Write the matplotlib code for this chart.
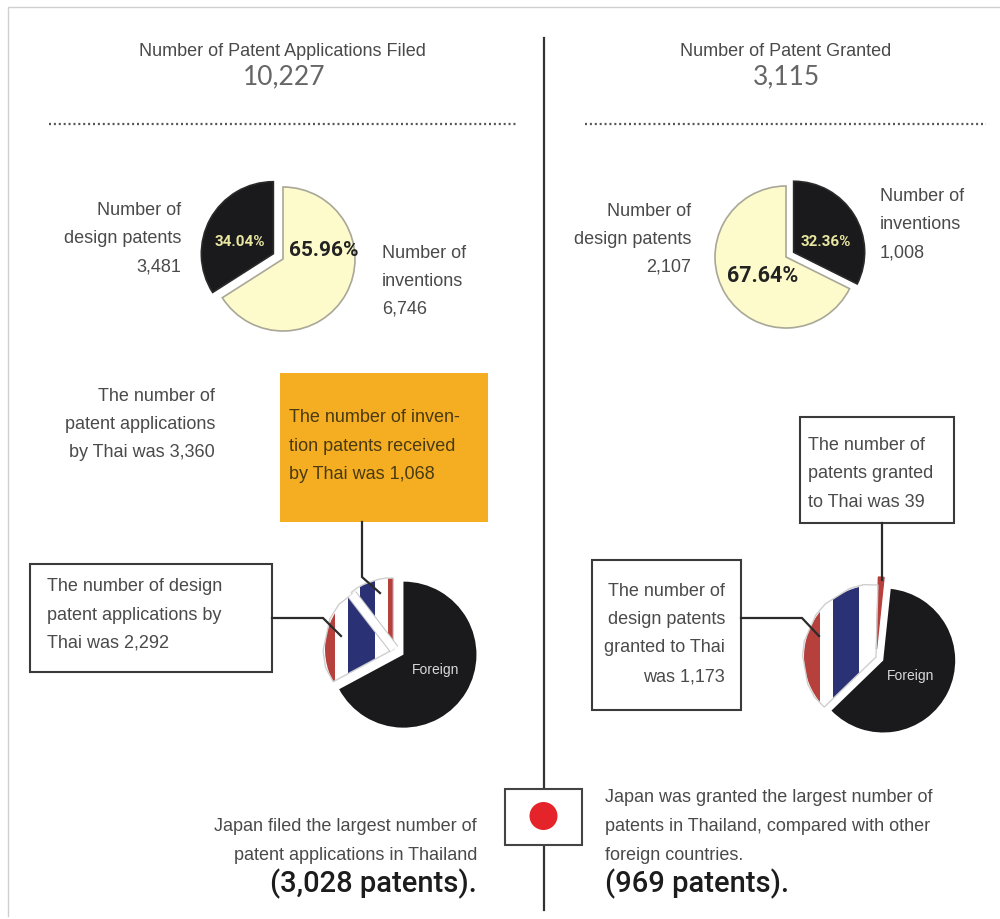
import matplotlib
matplotlib.use('Agg')
import matplotlib.pyplot as plt
from matplotlib.patches import Rectangle, Circle
import numpy as np

W, H = 1000, 919

filed_share = [34.04, 65.96]
filed_pct = ['34.04%', '65.96%']
granted_share = [32.36, 67.64]
granted_pct = ['32.36%', '67.64%']

# invention, design, foreign
filed_split = [1068, 2292, 6867]
# invention, design, foreign
granted_split = [39, 1173, 1903]

total_filed = '10,227'
total_granted = '3,115'

BLACK = '#1a1a1c'
CREAM = '#fdfbcb'
GREY = '#4a4a4a'
RED = '#b5403c'
BLUE = '#2a3275'
ORANGE = '#f5ae22'
FONT = 'Liberation Sans'


def Y(py):
    return H - py


def label(ax, x, y, s, size=13, ha='center', color=GREY, va='center', **kw):
    kw.setdefault('family', FONT)
    ax.text(x, Y(y), s, fontsize=size, ha=ha, va=va, color=color,
            linespacing=1.0, zorder=8, **kw)


def lines(ax, x, ys, rows, ha='left', size=13, color=GREY):
    # baseline alignment keeps rows with and without descenders evenly spaced
    for y, row in zip(ys, rows):
        label(ax, x, y + 5, row, size=size, ha=ha, color=color, va='baseline')


def poly(ax, pts, lw=1.6, color='#2b2b2b', zorder=6):
    ax.plot([p[0] for p in pts], [Y(p[1]) for p in pts], color=color, lw=lw,
            solid_joinstyle='miter', zorder=zorder)


def box(ax, x0, y0, x1, y1):
    ax.add_patch(Rectangle((x0, Y(y1)), x1 - x0, y1 - y0, fc='white', ec='#3a3a3a',
                           lw=1.5, zorder=5))


def share_pie(ax, cx, cy, r, values, explode, counterclock):
    # explode is in axis units here, the axes run in pixels
    wedges, _ = ax.pie(values, colors=[BLACK, CREAM], explode=explode, startangle=90,
                       counterclock=counterclock, center=(cx, Y(cy)), radius=r,
                       frame=False, normalize=True,
                       wedgeprops={'linewidth': 1.2, 'zorder': 3})
    wedges[0].set_edgecolor('#2a2a2a')
    wedges[1].set_edgecolor('#a9a797')


def thai_pie(ax, cx, cy, r, thai_r, values, explode, start, stripes, rims, cut=False):
    wedges, _ = ax.pie(values, colors=['white', 'white', BLACK], explode=explode,
                       startangle=start, center=(cx, Y(cy)), radius=r,
                       frame=False, normalize=True,
                       wedgeprops={'linewidth': 0, 'zorder': 2})
    for i, bands in stripes.items():
        wedges[i].set_radius(thai_r)
        for x0, x1, c in bands:
            band = ax.add_patch(Rectangle((x0, Y(cy) - 2 * r), x1 - x0, 4 * r, fc=c, lw=0,
                                          zorder=3))
            band.set_clip_path(wedges[i])
        ax.add_patch(plt.Polygon(wedges[i].get_path().vertices, closed=True, fill=False,
                                 ec=rims[i], lw=1.0, zorder=4,
                                 transform=wedges[i].get_patch_transform() + ax.transData))
    if cut:
        # white channel between the two thai slices
        a = np.radians(wedges[0].theta2)
        xs = [cx, cx + thai_r * np.cos(a)]
        ys = [Y(cy), Y(cy) + thai_r * np.sin(a)]
        ax.plot(xs, ys, color='#c4c4c4', lw=7.5, solid_capstyle='butt', zorder=4.5)
        ax.plot(xs, ys, color='white', lw=6, solid_capstyle='butt', zorder=4.6)


fig = plt.figure(figsize=(W / 100, H / 100), dpi=100)
ax = fig.add_axes([0, 0, 1, 1])

# outer frame, only top and left show
poly(ax, [(8, 916), (8, 7), (1000, 7)], lw=1.0, color='#cfcfcf', zorder=1)

# centre divider
poly(ax, [(544, 38), (544, 910)], lw=1.6, color='#333333', zorder=1)

# headers
label(ax, 282, 52, 'Number of Patent Applications Filed')
label(ax, 284, 77, total_filed, size=19, family='Lato', color='#666666')
label(ax, 786, 52, 'Number of Patent Granted')
label(ax, 786, 77, total_granted, size=19, family='Lato', color='#666666')
ax.plot([49, 516], [Y(124), Y(124)], color='#555555', lw=1.6, ls=(0, (0.9, 1.3)))
ax.plot([585, 986], [Y(124), Y(124)], color='#555555', lw=1.6, ls=(0, (0.9, 1.3)))

# share of inventions / design patents
share_pie(ax, 283, 259, 72, filed_share, [11, 0], True)
share_pie(ax, 786, 257, 71, granted_share, [9, 0], False)
label(ax, 240, 242, filed_pct[0], size=11, color='#e8e6a0', family='Roboto', fontweight='bold')
label(ax, 324, 250, filed_pct[1], size=15, color='#222222', family='Roboto', fontweight='bold')
label(ax, 826, 242, granted_pct[0], size=11, color='#e8e6a0', family='Roboto', fontweight='bold')
label(ax, 763, 276, granted_pct[1], size=15.5, color='#222222', family='Roboto', fontweight='bold')

lines(ax, 181, [210, 238, 266], ['Number of', 'design patents', '3,481'], ha='right')
lines(ax, 382, [253, 281, 309], ['Number of', 'inventions', '6,746'])
lines(ax, 691, [211, 239, 267], ['Number of', 'design patents', '2,107'], ha='right')
lines(ax, 880, [196, 224, 252], ['Number of', 'inventions', '1,008'])

# thai vs foreign, left column
ax.add_patch(Rectangle((280, Y(522)), 208, 149, fc=ORANGE, lw=0, zorder=5))
lines(ax, 289, [417, 446, 474], ['The number of inven-', 'tion patents received', 'by Thai was 1,068'],
      color='#4a3a12')
lines(ax, 215, [396, 424, 452], ['The number of', 'patent applications', 'by Thai was 3,360'], ha='right')

box(ax, 30, 564, 272, 672)
lines(ax, 47, [586, 615, 643], ['The number of design', 'patent applications by', 'Thai was 2,292'])

thai_pie(ax, 394, 649, 73, 69, filed_split, [2, 0, 11], 90, {
    0: [(360, 375, BLUE), (388, 396, RED)],
    1: [(320, 335, RED), (348, 375, BLUE)],
}, {0: '#cfcfcf', 1: '#cfcfcf'}, cut=True)
poly(ax, [(362, 522), (362, 577), (380, 593)], zorder=6)
poly(ax, [(272, 618), (323, 618), (341, 636)], zorder=6)
label(ax, 436, 670, 'Foreign', size=10, color='#d8d8d8')

# thai vs foreign, right column
box(ax, 800, 417, 954, 523)
lines(ax, 808, [445, 473, 502], ['The number of', 'patents granted', 'to Thai was 39'])
box(ax, 592, 560, 741, 710)
lines(ax, 725, [591, 619, 647, 676], ['The number of', 'design patents', 'granted to Thai', 'was 1,173'], ha='right')

thai_pie(ax, 876, 657, 72, 72, granted_split, [8, 0, 8], 84, {
    0: [(860, 900, RED)],
    1: [(800, 820, RED), (833, 859, BLUE)],
}, {0: RED, 1: '#cfcfcf'})
poly(ax, [(882, 523), (882, 580)], zorder=6)
poly(ax, [(741, 618), (802, 618), (819, 636)], zorder=6)
label(ax, 911, 676, 'Foreign', size=10, color='#d8d8d8')

# japan flag
ax.add_patch(Rectangle((505, Y(845)), 77, 56, fc='white', ec='#444444', lw=1.5, zorder=5))
ax.add_patch(Circle((543.5, Y(816)), 14, fc='#e4242a', lw=0, zorder=6))

# japan figures
lines(ax, 477, [826, 855], ['Japan filed the largest number of', 'patent applications in Thailand'], ha='right')
label(ax, 477, 884, '(3,028 patents).', size=21, ha='right', color='#1c1c1c', family='Roboto',
      fontweight='medium')
lines(ax, 605, [797, 826, 855], ['Japan was granted the largest number of', 'patents in Thailand, compared with other',
                                'foreign countries.'])
label(ax, 605, 884, '(969 patents).', size=21, ha='left', color='#1c1c1c', family='Roboto',
      fontweight='medium')

ax.set_xlim(0, W)
ax.set_ylim(0, H)
ax.set_aspect('auto')
ax.axis('off')

fig.savefig('out.png', dpi=100, facecolor='white')
